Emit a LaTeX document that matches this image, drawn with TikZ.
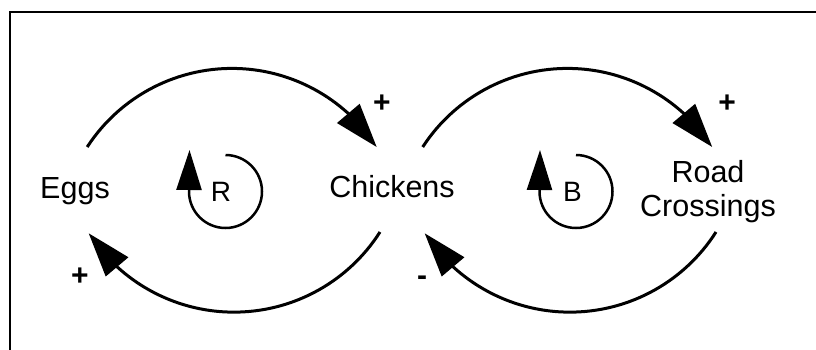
\documentclass[tikz,border=0pt]{standalone}
\usepackage{fontspec}
\setmainfont{Liberation Sans}
\usetikzlibrary{arrows.meta,bending}
\begin{document}
\begin{tikzpicture}[x=1pt,y=1pt,
  lbl/.style={inner sep=0pt,anchor=base,font=\fontsize{30.5}{34}\selectfont},
  sgn/.style={inner sep=0pt,anchor=base,font=\fontsize{30}{34}\selectfont\bfseries},
  ltr/.style={inner sep=0pt,anchor=base,font=\fontsize{28}{32}\selectfont},
  link/.style={line width=3pt,-{Triangle[length=44pt,width=29pt,flex=1]}},
  loopar/.style={line width=2.5pt,-{Triangle[length=40pt,width=25pt]}},
  frame/.style={line width=2pt}]
\useasboundingbox (0,0) rectangle (816,349);
\draw[frame] (10,-5) -- (10,337) -- (821,337);
% labels
\node[lbl] (eggs) at (75,151) {Eggs};
\node[lbl] (chk) at (392,152) {Chickens};
\node[lbl,align=center] (road) at (708,133) {Road\\Crossings};
% arc end points
\coordinate (a1) at (87.2,202);
\coordinate (a2) at (380,117);
\coordinate (b1) at (422.7,202);
\coordinate (b2) at (716,117);
% connectors
\draw[link] (a1) arc[start angle=147,end angle=33,radius=172.6];
\draw[link] (a2) arc[start angle=-32.5,end angle=-147,radius=173.2];
\draw[link] (b1) arc[start angle=147,end angle=33,radius=172.6];
\draw[link] (b2) arc[start angle=-32.5,end angle=-147,radius=173.2];
% loop markers
\coordinate (rtop) at (225.5,194);
\coordinate (btop) at (576,194);
\draw[loopar] (rtop) arc[start angle=90,end angle=-180,radius=36.5] -- ++(0.5,41.5);
\draw[loopar] (btop) arc[start angle=90,end angle=-180,radius=36.5] -- ++(0.5,41.5);
\node[ltr] (R) at (221,148) {R};
\node[ltr] (B) at (572.5,148) {B};
% polarity signs
\node[sgn] (p1) at (382,236.5) {+};
\node[sgn] (p2) at (80,63.5) {+};
\node[sgn] (p3) at (727,236.5) {+};
\node[sgn] (m1) at (422,64) {-};
\end{tikzpicture}
\end{document}
